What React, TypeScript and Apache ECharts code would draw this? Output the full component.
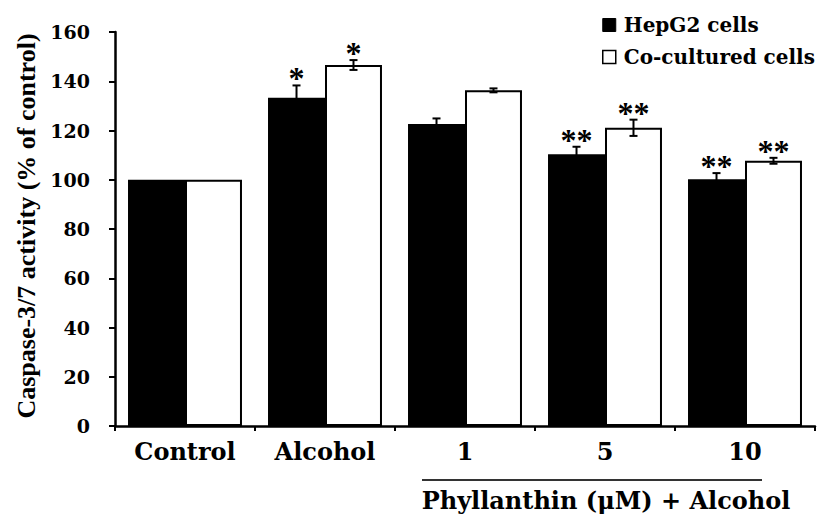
import React, { useEffect, useRef } from "react";
import * as echarts from "echarts";

const categories = ["Control", "Alcohol", "1", "5", "10"];
const hepg2Values = [100, 133.3, 122.6, 110.4, 100.2];
const hepg2Errors = [0, 5.0, 2.3, 3.0, 2.5];
const hepg2Sig = ["", "*", "", "**", "**"];
const cocultValues = [100, 146.6, 136.3, 121.1, 107.7];
const cocultErrors = [0, 2.0, 0.8, 3.3, 1.2];
const cocultSig = ["", "*", "", "**", "**"];
const yTicks = [0, 20, 40, 60, 80, 100, 120, 140, 160];

const CAT_GAP = 0.186;
const SERIF_WIDE = '"DejaVu Serif"';
const SERIF = '"Liberation Serif"';

function makeErrorRender(side: number, sig: string[]) {
  return (params: any, api: any) => {
    const idx = api.value(0);
    const val = api.value(1);
    const err = api.value(2);
    const band = api.size([1, 0])[0];
    const bw = (band * (1 - CAT_GAP)) / 2;
    const base = api.coord([idx, val]);
    const x = base[0] + side * (bw / 2);
    const top = api.coord([idx, val + err])[1];
    const bot = api.coord([idx, val - err])[1];
    const cap = 4;
    const children: any[] = [];
    if (err > 0) {
      const ls = { stroke: "#000", lineWidth: 2 };
      children.push({ type: "line", shape: { x1: x, y1: top, x2: x, y2: bot }, style: ls });
      children.push({ type: "line", shape: { x1: x - cap, y1: top, x2: x + cap, y2: top }, style: ls });
      children.push({ type: "line", shape: { x1: x - cap, y1: bot, x2: x + cap, y2: bot }, style: ls });
    }
    const s = sig[params.dataIndex];
    if (s) {
      children.push({
        type: "text",
        style: {
          text: s,
          x: x,
          y: top + 9,
          align: "center",
          verticalAlign: "bottom",
          font: `bold 32px ${SERIF}`,
          fill: "#000",
        },
      });
    }
    return { type: "group", children };
  };
}

export default function App() {
  const ref = useRef<HTMLDivElement>(null);
  useEffect(() => {
    document.body.style.margin = "0";
    const chart = echarts.init(ref.current!, null, { renderer: "svg" });
    const option: any = {
      animation: false,
      backgroundColor: "#fff",
      grid: { left: 115, right: 2, top: 32, bottom: 88, containLabel: false, outerBoundsMode: "none" },
      legend: {
        orient: "vertical",
        left: 602,
        top: 15,
        padding: 0,
        itemWidth: 13,
        itemHeight: 13,
        itemGap: 12,
        selectedMode: false,
        textStyle: { fontFamily: SERIF_WIDE, fontWeight: "bold", fontSize: 20, color: "#000", padding: [0, 0, 0, 3] },
        data: [
          { name: "HepG2 cells", icon: "rect", itemStyle: { color: "#000", borderColor: "#000", borderWidth: 1 } },
          { name: "Co-cultured cells", icon: "rect", itemStyle: { color: "#fff", borderColor: "#000", borderWidth: 1.5 } },
        ],
      },
      xAxis: {
        type: "category",
        data: categories,
        axisLine: { lineStyle: { color: "#000", width: 2.5 } },
        axisTick: { show: true, length: 5, lineStyle: { color: "#000", width: 2 } },
        axisLabel: {
          margin: 13,
          color: "#000",
          fontFamily: SERIF_WIDE,
          fontWeight: "bold",
          fontSize: 24,
        },
      },
      yAxis: {
        type: "value",
        min: 0,
        max: 160,
        interval: 20,
        name: "Caspase-3/7 activity (% of control)",
        nameLocation: "middle",
        nameGap: 74,
        nameRotate: 90,
        nameTextStyle: {
          fontFamily: SERIF,
          fontWeight: "bold",
          fontSize: 26,
          color: "#000",
          padding: [0, 0, 0, 6],
        },
        splitLine: { show: false },
        axisLine: { show: true, lineStyle: { color: "#000", width: 2.5 } },
        axisTick: { show: true, length: 6, lineStyle: { color: "#000", width: 2 } },
        axisLabel: {
          margin: 25,
          color: "#000",
          fontFamily: SERIF_WIDE,
          fontWeight: "bold",
          fontSize: 19,
          formatter: (v: number) => (yTicks.includes(v) ? String(v) : ""),
        },
      },
      series: [
        {
          name: "HepG2 cells",
          type: "bar",
          data: hepg2Values,
          barGap: "0%",
          barCategoryGap: `${CAT_GAP * 100}%`,
          itemStyle: { color: "#000", borderColor: "#000", borderWidth: 1.5 },
        },
        {
          name: "Co-cultured cells",
          type: "bar",
          data: cocultValues,
          barGap: "0%",
          barCategoryGap: `${CAT_GAP * 100}%`,
          itemStyle: { color: "#fff", borderColor: "#000", borderWidth: 2 },
        },
        {
          type: "custom",
          name: "hepErr",
          renderItem: makeErrorRender(-1, hepg2Sig),
          encode: { x: 0, y: 1 },
          data: hepg2Values.map((v, i) => [i, v, hepg2Errors[i]]),
          z: 10,
          silent: true,
        },
        {
          type: "custom",
          name: "coErr",
          renderItem: makeErrorRender(1, cocultSig),
          encode: { x: 0, y: 1 },
          data: cocultValues.map((v, i) => [i, v, cocultErrors[i]]),
          z: 10,
          silent: true,
        },
      ],
      graphic: [
        {
          type: "line",
          shape: { x1: 422, y1: 480, x2: 762, y2: 480 },
          style: { stroke: "#333", lineWidth: 2 },
        },
        {
          type: "text",
          x: 606,
          y: 500,
          style: {
            text: "Phyllanthin (μM) + Alcohol",
            align: "center",
            verticalAlign: "middle",
            font: `bold 24px ${SERIF_WIDE}`,
            fill: "#000",
          },
        },
      ],
    };
    chart.setOption(option);
    return () => chart.dispose();
  }, []);
  return <div ref={ref} style={{ width: 817, height: 514 }} />;
}
